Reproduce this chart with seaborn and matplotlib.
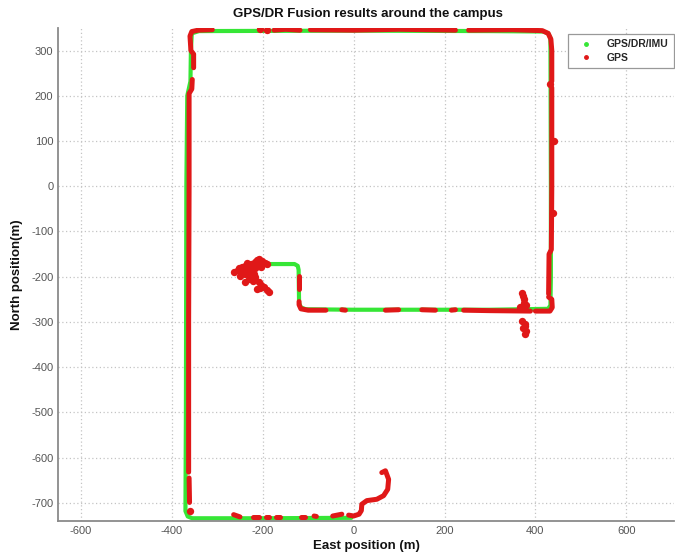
import matplotlib
matplotlib.use("Agg")
import matplotlib.pyplot as plt
from matplotlib.lines import Line2D
import seaborn as sns
import pandas as pd

# ---------------- data (East / North positions in metres) ----------------
# fused GPS/DR/IMU trajectory (waypoints)
green_x = [-5, -200, -355, -365, -370, -369, -368, -366, -359, -358, -356, -340,
           0, 300, 418, 428, 433, 434, 434, 433, 428, 300, 0, -105, -116, -120,
           -121, -123, -130, -204]
green_y = [-733, -734, -734, -730, -718, -500, 0, 200, 232, 300, 338, 343,
           344, 343, 342, 338, 328, 0, -200, -263, -271, -273, -273, -272, -268,
           -258, -185, -176, -172, -172]

# raw GPS track pieces
gps_start_x = [62, 70, 77, 75, 66, 51, 29, 18, 17, 12, 0, -11]
gps_start_y = [-633, -629, -648, -670, -684, -692, -695, -703, -717, -725, -729, -727]
gps_bottom_dash_x = [[-264, -250], [-221, -208], [-193, -187], [-170, -161],
                     [-115, -107], [-87, -82], [-46, -26]]
gps_bottom_dash_y = [[-726, -731], [-731, -731], [-731, -731], [-732, -732],
                     [-731, -731], [-729, -730], [-729, -725]]
gps_left_low_x = [-361, -362]
gps_left_low_y = [-699, -645]
gps_left_main_x = [-363, -363, -362, -362, -356, -355]
gps_left_main_y = [-632, -300, 0, 205, 215, 236]
gps_left_top_x = [-352, -352, -358, -360, -356, -342, -311]
gps_left_top_y = [262, 292, 300, 332, 342, 345, 346]
gps_top2_x = [-175, -150, -118]
gps_top2_y = [345, 347, 345]
gps_top3_x = [-95, 0, 100, 224]
gps_top3_y = [346, 345, 347, 345]
gps_top4_x = [253, 350, 415, 428, 434, 436, 436]
gps_top4_y = [345, 346, 344, 338, 325, 300, 232]
gps_right_x = [436, 436, 435, 430, 429]
gps_right_y = [218, 0, -140, -150, -238]
gps_hook_x = [429, 436, 437, 432, 425, 400]
gps_hook_y = [-245, -250, -268, -276, -276, -276]
gps_inner_right_x = [389, 300, 242]
gps_inner_right_y = [-276, -275, -274]
gps_inner_dash_x = [[215, 224], [150, 180], [70, 99], [-26, -18]]
gps_inner_dash_y = [[-274, -273], [-273, -274], [-274, -273], [-273, -274]]
gps_inner_left_x = [-61, -100, -116, -120, -120]
gps_inner_left_y = [-274, -274, -271, -262, -255]
gps_inner_vert_x = [-120, -120]
gps_inner_vert_y = [-199, -228]

# scattered GPS fixes
gps_cluster_x = [-208, -202, -213, -196, -190, -218, -225, -231, -238, -245, -253,
                 -264, -249, -246, -238, -230, -224, -216, -210, -204, -220, -216,
                 -230, -238, -222, -209, -204, -198, -190, -187, -213, -205, -240,
                 -255, -242, -228, -234]
gps_cluster_y = [-161, -166, -163, -170, -172, -168, -172, -174, -177, -178, -180,
                 -190, -199, -188, -185, -182, -186, -180, -176, -178, -195, -200,
                 -205, -195, -210, -212, -218, -223, -230, -233, -228, -226, -212,
                 -185, -192, -192, -170]
gps_spike_x = [370, 372, 374, 375, 376, 367, 380, 370, 376, 378, 379, 376, 373]
gps_spike_y = [-235, -242, -250, -258, -265, -268, -262, -298, -304, -309, -320, -327, -314]
gps_misc_x = [-316, -360, -206, -191, 440, 438, 432]
gps_misc_y = [351, -718, 347, 346, 100, -60, 225]

# axis ticks
x_ticks = [-600, -400, -200, 0, 200, 400, 600]
y_ticks = [-700, -600, -500, -400, -300, -200, -100, 0, 100, 200, 300]

# ---------------- build tables ----------------
segs = []
def add_seg(xs, ys, sid):
    for x, y in zip(xs, ys):
        segs.append({"x": x, "y": y, "seg": sid})

sid = 0
for xs, ys in [(gps_start_x, gps_start_y), (gps_left_low_x, gps_left_low_y),
               (gps_left_main_x, gps_left_main_y), (gps_left_top_x, gps_left_top_y),
               (gps_top2_x, gps_top2_y), (gps_top3_x, gps_top3_y),
               (gps_top4_x, gps_top4_y), (gps_right_x, gps_right_y),
               (gps_hook_x, gps_hook_y), (gps_inner_right_x, gps_inner_right_y),
               (gps_inner_left_x, gps_inner_left_y), (gps_inner_vert_x, gps_inner_vert_y)]:
    add_seg(xs, ys, sid)
    sid += 1
for xs, ys in zip(gps_bottom_dash_x + gps_inner_dash_x, gps_bottom_dash_y + gps_inner_dash_y):
    add_seg(xs, ys, sid)
    sid += 1
gps_df = pd.DataFrame(segs)
green_df = pd.DataFrame({"x": green_x, "y": green_y, "seg": 0})
pts_df = pd.DataFrame({"x": gps_cluster_x + gps_spike_x + gps_misc_x,
                       "y": gps_cluster_y + gps_spike_y + gps_misc_y})

GREEN = "#36e636"
RED = "#e01818"

sns.set_theme(style="white")
plt.rcParams["font.family"] = ["Liberation Sans", "DejaVu Sans"]
plt.rcParams["axes.unicode_minus"] = False

fig = plt.figure(figsize=(6.75, 5.54), dpi=100)
ax = fig.add_axes([0.0862, 0.0596, 0.9124, 0.890])

sns.lineplot(data=green_df, x="x", y="y", units="seg", estimator=None, sort=False,
             color=GREEN, lw=3.0, ax=ax, zorder=2, solid_capstyle="round")
sns.lineplot(data=gps_df, x="x", y="y", units="seg", estimator=None, sort=False,
             color=RED, lw=3.6, ax=ax, zorder=3, solid_capstyle="round")
sns.scatterplot(data=pts_df, x="x", y="y", color=RED, s=28, linewidth=0,
                ax=ax, zorder=4)

ax.set_xlim(-650, 705)
ax.set_ylim(-740, 350)
ax.set_xticks(x_ticks)
ax.set_yticks(y_ticks)
ax.grid(True, color="#c4c4c4", linestyle=(0, (1, 2)), linewidth=0.9)
ax.set_axisbelow(True)
for s in ["top", "right"]:
    ax.spines[s].set_visible(False)
for s in ["left", "bottom"]:
    ax.spines[s].set_color("#8a8a8a")
    ax.spines[s].set_linewidth(1.3)
ax.tick_params(direction="in", length=4, width=1, colors="#8a8a8a",
               labelcolor="#555555", labelsize=8)

ax.set_xlabel("East position (m)", fontsize=9.5, fontweight="bold", color="#111111", labelpad=3)
ax.set_ylabel("North position(m)", fontsize=9.5, fontweight="bold", color="#111111", labelpad=6)
fig.text(368 / 675, 1 - 14 / 554, "GPS/DR Fusion results around the campus",
         ha="center", va="center", fontsize=9.5, fontweight="bold", color="#111111")

handles = [Line2D([], [], ls="none", marker=".", ms=5, color=GREEN, label="GPS/DR/IMU"),
           Line2D([], [], ls="none", marker=".", ms=5, color=RED, label="GPS")]
leg = fig.legend(handles=handles, loc="upper left",
                 bbox_to_anchor=(568 / 675, 1 - 34 / 554), bbox_transform=fig.transFigure,
                 frameon=True, fancybox=False, edgecolor="#999999", framealpha=1,
                 prop={"size": 7.5, "weight": "bold"}, handlelength=2.5,
                 handletextpad=0.7, borderpad=0.5, labelspacing=0.35, borderaxespad=0)
leg.get_frame().set_linewidth(0.9)

fig.savefig("out.png", dpi=100)
